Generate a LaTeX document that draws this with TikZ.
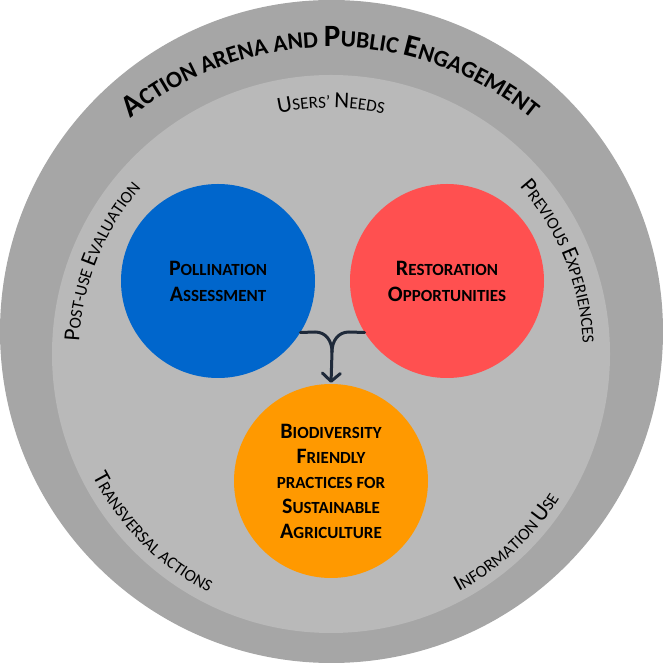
\documentclass[tikz,border=0pt]{standalone}
\usepackage{fontspec}
\setmainfont{Carlito}
\usetikzlibrary{decorations.text,arrows.meta,calc}
\definecolor{outerg}{HTML}{A6A6A6}
\definecolor{innerg}{HTML}{B9B9B9}
\definecolor{pblue}{HTML}{0066CC}
\definecolor{pred}{HTML}{FF5050}
\definecolor{porange}{HTML}{FF9900}
\definecolor{arrowc}{HTML}{1F2A3A}
\newcommand\TitB{\fontsize{31}{31}\selectfont\bfseries}
\newcommand\TitS{\fontsize{23.5}{23.5}\selectfont\bfseries}
\newcommand\LabB{\fontsize{23}{23}\selectfont}
\newcommand\LabS{\fontsize{17}{17}\selectfont}
\newcommand\Bc[1]{{\fontsize{22}{26}\selectfont #1}}
\begin{document}
\begin{tikzpicture}[x=1pt,y=1pt,
  disc/.style={circle, minimum size=194pt, inner sep=0pt, align=center,
    font=\bfseries\fontsize{17}{26}\selectfont, text=black},
  arcText/.style={decorate, decoration={text along path, text align=center, text={#1}}},
  conn/.style={draw=arrowc, line width=3pt, line cap=round, line join=round}]
\useasboundingbox (0,0) rectangle (663,663);
% rings
\node[circle, fill=outerg, minimum size=663pt, inner sep=0pt] (outer) at (331.5,331.5) {};
\node[circle, fill=innerg, minimum size=558pt, inner sep=0pt] (inner) at (331,309) {};
\coordinate (tc) at (331,299);
\coordinate (ic) at (331,309);
% title
\path[arcText={|\TitB|A|\TitS|CTION ARENA AND |\TitB|P|\TitS|UBLIC |\TitB|E|\TitS|NGAGEMENT}]
  ($(tc)+(150:317)$) arc[start angle=150, end angle=30, radius=317];
% inner labels (tops outward)
\path[arcText={|\LabB|U|\LabS|SERS’ |\LabB|N|\LabS|EEDS}]
  ($(ic)+(150:246)$) arc[start angle=150, end angle=30, radius=246];
\path[arcText={|\LabB|P|\LabS|OST-USE |\LabB|E|\LabS|VALUATION}]
  ($(ic)+(218:252)$) arc[start angle=218, end angle=98, radius=252];
\path[arcText={|\LabB|P|\LabS|REVIOUS |\LabB|E|\LabS|XPERIENCES}]
  ($(ic)+(82:252)$) arc[start angle=82, end angle=-38, radius=252];
% inner labels (tops inward)
\path[arcText={|\LabB|T|\LabS|RANSVERSAL ACTIONS}]
  ($(ic)+(165:268)$) arc[start angle=165, end angle=285, radius=268];
\path[arcText={|\LabB|I|\LabS|NFORMATION |\LabB|U|\LabS|SE}]
  ($(ic)+(253:270)$) arc[start angle=253, end angle=373, radius=270];
% discs
\node[disc, fill=pblue] (pol) at (218,382) {\Bc{P}OLLINATION\\\Bc{A}SSESSMENT};
\node[disc, fill=pred] (res) at (447,382) {\Bc{R}ESTORATION\\\Bc{O}PPORTUNITIES};
\node[disc, fill=porange, font=\bfseries\fontsize{17}{25}\selectfont] (bio) at (331,182)
  {\Bc{B}IODIVERSITY\\\Bc{F}RIENDLY\\PRACTICES FOR\\\Bc{S}USTAINABLE\\\Bc{A}GRICULTURE};
% merge arrow
\coordinate (j) at (332,311);
\coordinate (lh) at (315,331);
\coordinate (rh) at (349,331);
\path[conn] (pol.-32) -- (lh) .. controls (326,331) and (332,322) .. (j);
\path[conn] (res.212) -- (rh) .. controls (338,331) and (332,322) .. (j);
\path[conn, -{Straight Barb[length=8pt,width=18pt,round]}, shorten >=1pt] (j) -- (bio.north);
\end{tikzpicture}
\end{document}
